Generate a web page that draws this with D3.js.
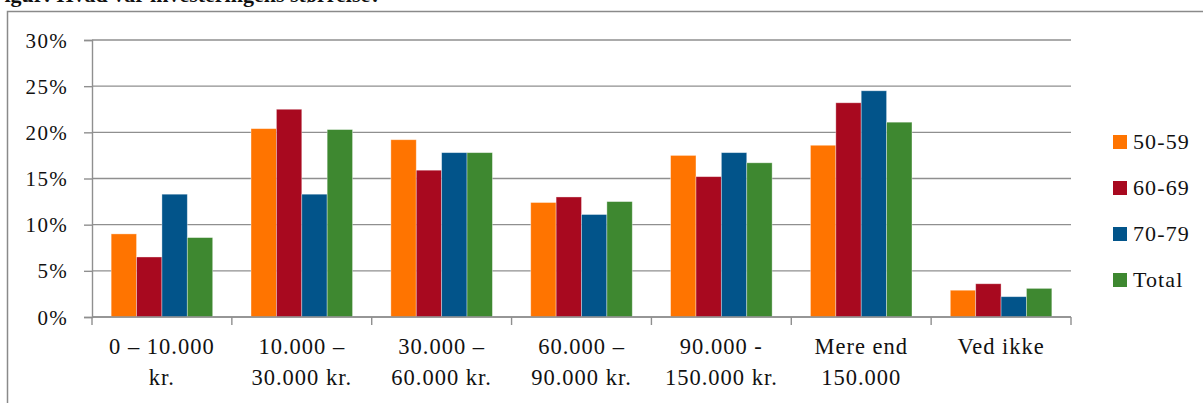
<!DOCTYPE html>
<html>
<head>
<meta charset="utf-8">
<script src="https://cdn.jsdelivr.net/npm/d3@7"></script>
<style>
  html, body { margin: 0; padding: 0; background: #fff; }
  svg { display: block; }
</style>
</head>
<body>
<svg id="chart" width="1203" height="403"></svg>
<script>
// Survey answers: size of the investment, share of respondents by age group
const categories = [
  ["0 \u2013 10.000", "kr."],
  ["10.000 \u2013", "30.000 kr."],
  ["30.000 \u2013", "60.000 kr."],
  ["60.000 \u2013", "90.000 kr."],
  ["90.000 -", "150.000 kr."],
  ["Mere end", "150.000"],
  ["Ved ikke"]
];
const seriesNames = ["50-59", "60-69", "70-79", "Total"];
const s5059  = [0.090, 0.204, 0.192, 0.124, 0.175, 0.186, 0.029];
const s6069  = [0.065, 0.225, 0.159, 0.130, 0.152, 0.232, 0.036];
const s7079  = [0.133, 0.133, 0.178, 0.111, 0.178, 0.245, 0.022];
const sTotal = [0.086, 0.203, 0.178, 0.125, 0.167, 0.211, 0.031];
const yTicks = [0, 0.05, 0.10, 0.15, 0.20, 0.25, 0.30];
const colors = ["#ff7400", "#a8091f", "#02548a", "#3e8830"];

const FONT = "'Liberation Serif', 'Times New Roman', serif";
const series = [s5059, s6069, s7079, sTotal];
const svg = d3.select("#chart");

const plotLeft = 92, plotRight = 1071, plotTop = 40, plotBottom = 317;

const x0 = d3.scaleBand()
  .domain(d3.range(categories.length))
  .range([plotLeft, plotRight])
  .paddingInner(0.274)
  .paddingOuter(0.137);
const x1 = d3.scaleBand()
  .domain(d3.range(seriesNames.length))
  .range([0, x0.bandwidth()]);
const y = d3.scaleLinear().domain([0, 0.30]).range([plotBottom, plotTop]);

// Outer frame of the figure, and its partly visible caption
svg.append("text")
  .attr("x", -9).attr("y", 2)
  .style("font-family", FONT)
  .style("font-size", "22px").style("font-weight", "bold").style("fill", "#111")
  .text("Figur: Hvad var investeringens størrelse?");
svg.append("path")
  .attr("d", `M7.5,403V11.5H1203`)
  .attr("fill", "none").attr("stroke", "#8a8a8a").attr("stroke-width", 1.5);

// Horizontal gridlines
svg.append("g")
  .selectAll("line")
  .data(yTicks)
  .join("line")
  .attr("x1", plotLeft).attr("x2", plotRight)
  .attr("y1", d => y(d)).attr("y2", d => y(d))
  .attr("stroke", "#8f8f8f").attr("stroke-width", 1.4);

// Y axis
const yAxis = svg.append("g")
  .attr("transform", `translate(${plotLeft},0)`)
  .call(d3.axisLeft(y).tickValues(yTicks).tickFormat(d3.format(".0%")).tickSize(8).tickPadding(16))
  .attr("font-family", FONT);
yAxis.select(".domain").attr("stroke", "#8f8f8f").attr("stroke-width", 1.4);
yAxis.selectAll(".tick line").attr("stroke", "#8f8f8f").attr("stroke-width", 1.4);
yAxis.selectAll(".tick text")
  .style("font-family", FONT)
  .style("font-size", "21px").style("letter-spacing", "1.3px")
  .attr("fill", "#111").attr("dy", "0.34em");

// Bars
const groups = svg.append("g")
  .selectAll("g")
  .data(categories.map((c, i) => i))
  .join("g")
  .attr("transform", i => `translate(${x0(i)},0)`);
groups.selectAll("rect")
  .data(i => series.map((s, k) => ({ k, v: s[i] })))
  .join("rect")
  .attr("x", d => x1(d.k))
  .attr("width", x1.bandwidth())
  .attr("y", d => y(d.v))
  .attr("height", d => y(0) - y(d.v))
  .attr("fill", d => colors[d.k])
  .attr("stroke", "rgba(255,255,255,0.45)")
  .attr("stroke-width", 0.8);

// X axis with ticks between the categories
const step = x0.step();
const boundaries = d3.range(categories.length + 1).map(i => plotLeft + i * step);
svg.append("line")
  .attr("x1", plotLeft).attr("x2", plotRight)
  .attr("y1", plotBottom).attr("y2", plotBottom)
  .attr("stroke", "#8f8f8f").attr("stroke-width", 1.6);
svg.append("g")
  .selectAll("line")
  .data(boundaries)
  .join("line")
  .attr("x1", d => d).attr("x2", d => d)
  .attr("y1", plotBottom).attr("y2", plotBottom + 8)
  .attr("stroke", "#8f8f8f").attr("stroke-width", 1.4);

svg.append("g")
  .selectAll("text")
  .data(categories)
  .join("text")
  .attr("x", (c, i) => x0(i) + x0.bandwidth() / 2)
  .attr("y", 354)
  .attr("text-anchor", "middle")
  .style("font-family", FONT).style("fill", "#111")
  .style("font-size", "22.5px").style("letter-spacing", "1px")
  .selectAll("tspan")
  .data(c => c)
  .join("tspan")
  .attr("x", function () { return this.parentNode.getAttribute("x"); })
  .attr("dy", (d, j) => j === 0 ? 0 : 31)
  .text(d => d);

// Legend
const legend = svg.append("g")
  .selectAll("g")
  .data(seriesNames)
  .join("g")
  .attr("transform", (d, i) => `translate(1113,${135 + i * 46})`);
legend.append("rect")
  .attr("width", 14).attr("height", 14)
  .attr("fill", (d, i) => colors[i]);
legend.append("text")
  .attr("x", 20).attr("y", 14)
  .style("font-family", FONT).style("fill", "#111")
  .style("font-size", "22px").style("letter-spacing", "1.1px")
  .text(d => d);
</script>
</body>
</html>
